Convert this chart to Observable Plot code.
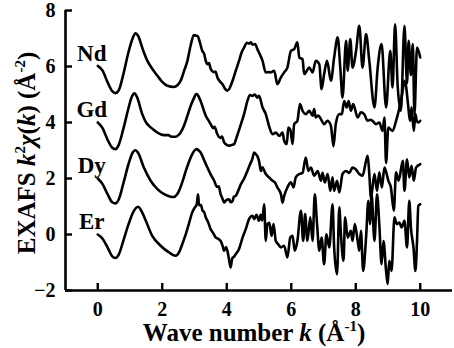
<!DOCTYPE html>
<html>
<head>
<meta charset="utf-8">
<script src="https://cdn.jsdelivr.net/npm/d3@7"></script>
<script src="https://cdn.jsdelivr.net/npm/@observablehq/plot@0.6"></script>
<style>
  html, body { margin: 0; padding: 0; background: #fff; }
  svg { display: block; }
</style>
</head>
<body>
<div id="chart"></div>
<script>
const xTicks = [0, 2, 4, 6, 8, 10];
const yTicks = [-2, 0, 2, 4, 6, 8];
const names = ["Nd", "Gd", "Dy", "Er"];
const offsets = [6, 4, 2, 0];

const ndK = [0,0.15,0.3,0.45,0.55,0.65,0.8,0.95,1.08,1.17,1.25,1.4,1.54,1.7,1.85,2.0,2.16,2.36,2.47,2.57,2.68,2.78,2.88,2.98,3.05,3.1,3.17,3.24,3.3,3.35,3.4,3.45,3.5,3.6,3.65,3.71,3.8,3.87,3.95,4.02,4.1,4.18,4.28,4.38,4.46,4.54,4.62,4.69,4.75,4.8,4.88,4.95,5.11,5.21,5.3,5.37,5.47,5.57,5.68,5.78,5.88,5.99,6.09,6.19,6.25,6.35,6.4,6.56,6.66,6.76,6.87,6.94,7.02,7.11,7.23,7.33,7.44,7.52,7.59,7.7,7.75,7.83,7.9,8.01,8.11,8.21,8.32,8.42,8.58,8.68,8.8,8.94,9.07,9.14,9.22,9.3,9.4,9.51,9.59,9.64,9.71,9.77,9.82,9.9,10];
const ndV = [6.02,5.85,5.45,5.12,5.05,5.15,5.75,6.5,7.0,7.19,7.1,6.6,6.2,5.9,5.67,5.45,5.31,5.27,5.33,5.49,5.85,6.2,6.75,7.12,7.1,7.08,6.85,6.56,6.45,6.2,6.08,6.12,5.92,5.8,5.82,5.61,5.45,5.37,5.2,5.14,5.25,5.49,5.85,6.2,6.5,6.68,6.85,6.82,6.86,6.78,6.8,6.62,6.2,5.79,5.8,5.79,5.85,5.37,5.61,5.79,5.96,6.56,6.62,6.86,6.32,6.26,5.73,5.96,5.79,6.2,6.08,5.19,5.73,6.2,5.49,6.32,7.04,5.96,4.89,6.92,5.85,6.98,5.96,6.56,7.45,5.96,7.16,6.2,4.54,5.96,6.8,4.54,6.56,5.25,7.51,5.3,4.42,7.45,5.4,6.92,5.7,6.8,4.3,6.68,6.32];

const gdK = [0,0.15,0.3,0.45,0.55,0.65,0.8,0.95,1.05,1.14,1.22,1.38,1.5,1.59,1.72,1.85,2.05,2.2,2.26,2.42,2.5,2.57,2.68,2.78,2.9,2.99,3.05,3.09,3.14,3.19,3.27,3.35,3.42,3.5,3.58,3.62,3.71,3.8,3.85,3.92,4.0,4.07,4.15,4.23,4.3,4.44,4.55,4.64,4.72,4.79,4.87,4.95,5.0,5.11,5.21,5.31,5.42,5.52,5.63,5.73,5.78,5.86,5.91,5.97,6.04,6.09,6.19,6.27,6.35,6.45,6.56,6.66,6.71,6.76,6.84,6.92,7.02,7.12,7.23,7.31,7.38,7.49,7.57,7.64,7.72,7.78,7.85,7.92,8.06,8.16,8.26,8.37,8.45,8.52,8.63,8.73,8.83,8.89,8.94,9.01,9.14,9.25,9.35,9.45,9.51,9.56,9.61,9.69,9.73,9.8,9.85,9.89,9.94,10];
const gdV = [4.0,3.8,3.4,3.1,3.05,3.2,3.8,4.5,4.9,5.04,4.9,4.3,4.0,3.88,3.75,3.64,3.55,3.55,3.5,3.49,3.55,3.64,3.9,4.24,4.65,4.89,5.02,5.0,4.9,4.77,4.5,4.24,4.1,3.94,3.8,3.85,3.58,3.45,3.5,3.29,3.2,3.17,3.2,3.23,3.45,3.94,4.35,4.77,4.98,4.95,5.0,4.89,4.95,4.54,4.3,3.88,3.58,3.64,3.52,3.64,3.35,3.23,3.82,3.75,3.23,3.94,4.06,4.66,4.42,4.3,4.42,4.24,4.48,4.18,4.25,4.12,3.94,4.06,3.88,3.15,3.94,4.3,4.3,4.77,4.54,4.77,4.42,4.66,4.18,4.36,4.3,4.06,4.1,4.06,3.94,4.0,3.7,4.18,2.55,3.82,3.7,4.06,4.5,5.1,5.49,5.3,4.77,4.06,4.54,3.7,4.3,4.06,4.0,4.06];

const dyK = [0,0.15,0.3,0.45,0.55,0.65,0.8,0.95,1.07,1.17,1.25,1.43,1.64,1.85,2.06,2.26,2.36,2.45,2.52,2.63,2.73,2.83,2.93,3.0,3.07,3.13,3.19,3.3,3.4,3.5,3.61,3.7,3.75,3.81,3.86,3.92,3.98,4.07,4.12,4.18,4.22,4.28,4.35,4.44,4.54,4.64,4.72,4.79,4.85,4.9,4.95,5.0,5.06,5.1,5.21,5.31,5.42,5.5,5.57,5.68,5.73,5.78,5.88,5.99,6.07,6.14,6.25,6.35,6.45,6.53,6.61,6.71,6.82,6.92,6.97,7.04,7.13,7.21,7.28,7.33,7.42,7.49,7.59,7.7,7.8,7.9,8.0,8.11,8.21,8.32,8.37,8.42,8.47,8.58,8.66,8.73,8.81,8.89,8.95,9.01,9.09,9.18,9.25,9.33,9.46,9.51,9.59,9.66,9.73,9.8,9.87,10];
const dyV = [2.0,1.8,1.45,1.15,1.11,1.25,1.85,2.5,2.9,3.01,2.92,2.39,1.92,1.62,1.44,1.35,1.34,1.42,1.56,1.9,2.27,2.6,2.87,3.0,3.05,3.0,2.93,2.65,2.39,2.15,1.92,1.7,1.72,1.44,1.3,1.14,1.22,1.26,1.15,1.2,1.35,1.38,1.55,1.8,2.0,2.27,2.5,2.69,2.93,2.87,2.8,2.63,2.27,2.4,2.16,2.04,1.92,1.85,1.68,1.44,1.14,1.38,1.68,1.86,1.68,2.04,2.16,2.2,2.75,2.27,2.39,2.1,2.27,1.92,2.2,1.86,2.16,1.56,2.04,1.56,1.92,1.5,2.16,2.27,2.2,2.39,2.33,2.16,2.1,2.63,2.81,2.16,1.32,2.16,1.56,2.22,1.68,2.39,2.2,1.92,1.68,0.85,2.22,1.92,2.63,1.56,2.69,2.04,2.45,1.92,2.39,2.51];

const erK = [0,0.15,0.3,0.45,0.55,0.65,0.8,0.95,1.1,1.25,1.35,1.49,1.69,1.95,2.21,2.42,2.52,2.62,2.73,2.83,2.93,3.0,3.07,3.11,3.14,3.2,3.25,3.3,3.35,3.42,3.5,3.58,3.66,3.73,3.81,3.87,3.92,3.98,4.05,4.12,4.17,4.22,4.28,4.38,4.49,4.59,4.69,4.8,4.85,4.92,5.0,5.05,5.1,5.16,5.21,5.26,5.32,5.39,5.45,5.52,5.59,5.68,5.78,5.88,5.97,6.04,6.11,6.19,6.3,6.37,6.43,6.5,6.59,6.66,6.73,6.8,6.87,6.94,7.02,7.09,7.18,7.28,7.33,7.42,7.49,7.54,7.62,7.67,7.75,7.85,7.9,7.97,8.06,8.11,8.16,8.23,8.32,8.39,8.44,8.49,8.58,8.66,8.73,8.8,8.86,8.94,8.99,9.04,9.11,9.2,9.27,9.35,9.42,9.51,9.59,9.66,9.71,9.79,9.85,9.9,9.94,10];
const erV = [0,-0.15,-0.45,-0.78,-0.84,-0.72,-0.2,0.35,0.8,0.99,0.85,0.49,-0.05,-0.4,-0.64,-0.76,-0.64,-0.35,0.01,0.4,0.79,0.95,1.08,1.44,1.05,1.05,0.85,0.8,0.61,0.45,0.19,0.05,-0.11,-0.15,-0.23,-0.4,-0.58,-0.45,-0.75,-1.18,-0.85,-0.8,-0.7,-0.52,-0.11,0.19,0.55,0.67,0.55,0.7,0.49,0.7,0.5,1.08,-0.23,0.37,0.42,-0.05,0.37,-0.23,-0.34,-0.46,-0.4,-0.82,-0.11,-0.05,-0.58,-0.23,0.85,-0.23,0.73,-0.23,0.61,-0.23,1.44,0.37,-0.58,-0.11,-1.06,0.01,-0.46,1.08,-0.46,-1.42,0.97,0.01,-0.94,0.61,-0.11,0.13,-0.23,0.37,-0.23,-0.58,0.13,-1.3,-0.11,1.2,0.37,1.44,-0.23,1.44,0.37,-1.06,-0.23,-1.3,-1.77,-0.94,-1.3,0.61,0.37,0.43,0.25,0.49,-0.46,1.2,0.25,-0.46,-1.3,-0.23,1.02,1.08];

const seriesK = [ndK, gdK, dyK, erK];
const seriesV = [ndV, gdV, dyV, erV];

const rows = names.flatMap((name, s) =>
  seriesK[s].map((k, i) => ({name, k, v: seriesV[s][i]}))
);
const labels = names.map((name, s) => ({name, k: seriesK[s][0], v: offsets[s]}));

const W = 454, H = 348;
const mL = 65, mR = 2, mT = 10, mB = 58;
const innerW = W - mL - mR, innerH = H - mT - mB;
const font = "'Liberation Serif', 'Times New Roman', serif";

const chart = Plot.plot({
  width: W,
  height: H,
  marginLeft: mL,
  marginRight: mR,
  marginTop: mT,
  marginBottom: mB,
  x: {domain: [-1, 11]},
  y: {domain: [-2, 8]},
  style: {fontFamily: font, background: "#fff", color: "#000", overflow: "visible"},
  marks: [
    Plot.line(rows, {x: "k", y: "v", z: "name", stroke: "#000", strokeWidth: 2.6, curve: "monotone-x", strokeLinejoin: "round"}),
    Plot.text(labels, {x: "k", y: "v", text: "name", dx: -6, dy: -13, fontSize: 23, fontWeight: "bold", fill: "#000", textAnchor: "middle"}),
    Plot.ruleX([-1], {stroke: "#000", strokeWidth: 2.6}),
    Plot.ruleY([-2], {stroke: "#000", strokeWidth: 2.6}),
    Plot.tickX(xTicks, {x: d => d, stroke: "#000", strokeWidth: 2.4, insetTop: innerH - 7}),
    Plot.tickY(yTicks, {y: d => d, stroke: "#000", strokeWidth: 2.4, insetRight: innerW - 7}),
    Plot.axisX(xTicks, {tickSize: 0, tickPadding: 11, fontSize: 20, fontWeight: "bold", label: null}),
    Plot.axisY(yTicks, {tickSize: 0, tickPadding: 10, fontSize: 20, fontWeight: "bold", label: null})
  ]
});

const svg = d3.select(chart);
// x-axis title
const xt = svg.append("text")
  .attr("x", 254).attr("y", 341)
  .attr("text-anchor", "middle")
  .attr("font-family", font).attr("font-size", 25).attr("font-weight", "bold").attr("fill", "#000");
xt.append("tspan").text("Wave number ");
xt.append("tspan").attr("font-style", "italic").text("k");
xt.append("tspan").text(" (Å");
xt.append("tspan").attr("font-size", 15).attr("dy", -10).text("-1");
xt.append("tspan").attr("dy", 10).text(")");

// y-axis title
const yt = svg.append("text")
  .attr("transform", "translate(35,153) rotate(-90)")
  .attr("text-anchor", "middle")
  .attr("font-family", font).attr("font-size", 25).attr("font-weight", "bold").attr("fill", "#000");
yt.append("tspan").text("EXAFS ");
yt.append("tspan").attr("font-style", "italic").text("k");
yt.append("tspan").attr("font-size", 15).attr("dy", -10).text("2");
yt.append("tspan").attr("dy", 10).attr("font-style", "italic").text("χ");
yt.append("tspan").text("(");
yt.append("tspan").attr("font-style", "italic").text("k");
yt.append("tspan").text(") (Å");
yt.append("tspan").attr("font-size", 15).attr("dy", -10).text("-2");
yt.append("tspan").attr("dy", 10).text(")");

document.getElementById("chart").append(chart);
</script>
</body>
</html>
